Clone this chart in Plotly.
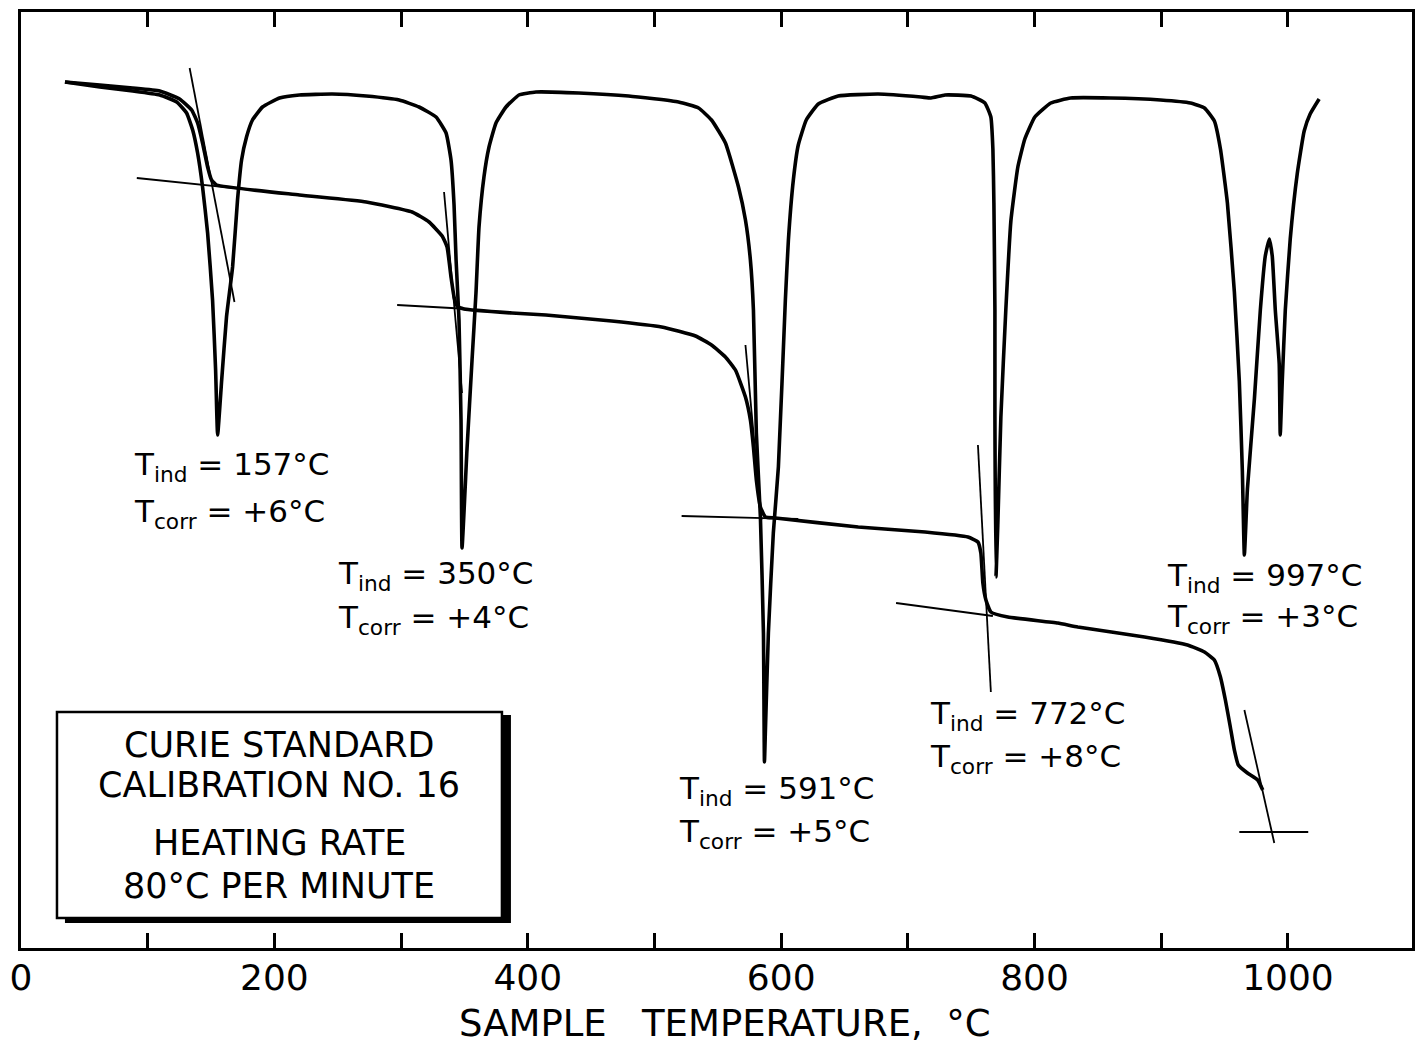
import plotly.graph_objects as go

# ---------------- data (sample temperature in °C, deflection in arbitrary chart units) -------------
dta_temp = [34.7, 62.2, 88.2, 109.5, 122.9, 130.7, 135.5, 139.4, 143.3, 147.3, 151.2, 153.6, 155.2,
            158.4, 162.2, 167.0, 170.9, 174.1, 178.0, 182.7, 190.6, 204.0, 219.7, 245.7, 272.5,
            298.5, 314.2, 327.6, 335.5, 339.4, 341.8, 343.4, 345.7, 347.3, 348.1,
            352.0, 356.0, 359.1, 361.5, 365.4, 369.4, 374.9, 382.8, 393.0, 406.4, 440.3, 479.6,
            519.0, 534.8, 545.0, 556.0, 566.3, 571.8, 575.7, 578.1, 580.4, 583.6, 586.0, 586.8,
            587.5, 589.9, 593.8, 597.8, 603.3, 605.7, 609.6, 613.5, 619.8, 629.3, 645.0, 676.5,
            710.4, 718.3, 729.3, 749.8, 760.8, 765.5, 767.1, 767.9, 768.7, 768.7, 769.5,
            771.0, 773.4, 777.3, 781.3, 786.8, 792.3, 800.2, 812.8, 828.5, 860.0, 899.4, 923.0,
            934.1, 941.9, 946.7, 952.2, 957.7, 961.6, 964.0, 965.6,
            968.0, 973.5, 978.2, 982.1, 985.3, 987.6, 990.0, 993.1, 993.9,
            995.5, 997.9, 1001.8, 1007.3, 1012.8, 1017.5, 1024.6]
dta_signal = [866, 861, 857, 853, 846, 835, 818, 795, 761, 715, 648, 578, 513,
              568, 631, 681, 748, 788, 811, 828, 841, 850, 853, 854, 852,
              848, 841, 831, 815, 788, 743, 688, 628, 528, 400,
              498, 588, 655, 721, 771, 801, 825, 841, 853, 856, 855, 852,
              846, 840, 828, 805, 761, 728, 688, 638, 515, 431, 315, 186,
              215, 315, 415, 481, 648, 708, 768, 803, 828, 844, 852, 854,
              851, 850, 853, 852, 845, 831, 799, 745, 638, 531, 371,
              424, 531, 638, 727, 781, 809, 831, 845, 850, 850, 848, 845,
              840, 827, 799, 745, 656, 567, 477, 393,
              459, 549, 638, 692, 709, 692, 638, 584, 513,
              567, 638, 709, 774, 817, 834, 849]

tga_temp = [34.7, 62.2, 88.2, 109.5, 125.2, 134.7, 139.4, 143.3, 147.3, 150.4, 154.4,
            219.7, 272.5, 308.7, 322.1, 332.4, 336.3, 339.4, 341.8, 344.2, 349.7,
            387.5, 414.3, 466.2, 505.6, 532.4, 545.0, 556.0, 563.9, 571.8, 575.7, 578.1,
            580.4, 583.6, 587.5, 595.4, 660.8, 713.6, 747.4, 755.3, 757.6, 759.2, 761.6,
            765.5, 778.9, 818.3, 834.1, 886.8, 920.7, 934.1, 941.9, 946.7, 950.6, 954.5,
            957.7, 960.8, 968.0, 976.1, 980.1]
tga_signal = [866, 863, 860, 857, 849, 838, 825, 805, 781, 768, 763,
              753, 746, 736, 726, 712, 701, 671, 651, 642, 639,
              635, 633, 627, 621, 612, 603, 591, 578, 551, 528, 501,
              468, 441, 431, 430, 421, 416, 411, 406, 395, 365, 348,
              336, 331, 325, 321, 311, 303, 296, 288, 271, 248, 221,
              198, 183, 175, 168, 158]

# tangent construction lines (start / end points of each thin ruled line)
tangent_temp = [[133.1, 168.5], [91.4, 219.7], [333.9, 348.1], [296.9, 353.6],
                [571.8, 584.4], [521.4, 613.5], [755.3, 765.5], [690.7, 767.1],
                [965.6, 989.2], [961.6, 1016.0]]
tangent_signal = [[880, 646], [770, 753], [756, 555], [643, 639],
                  [603, 428], [432, 429], [503, 256], [345, 332],
                  [238, 105], [116, 116]]

ind_temps = ["157", "350", "591", "772", "997"]
corr_temps = ["+6", "+4", "+5", "+8", "+3"]

tick_vals = [0, 100, 200, 300, 400, 500, 600, 700, 800, 900, 1000]
tick_text = ["0", "", "200", "", "400", "", "600", "", "800", "", "1000"]

box_lines = ["CURIE STANDARD", "CALIBRATION NO. 16", "HEATING RATE", "80°C PER MINUTE"]

# ---------------- layout positions (annotation anchors in data units) ---------------------------
label_x = [87.4, 248.9, 517.4, 715.9, 902.6]
label_y1 = [482, 373, 158, 233, 371]
label_y2 = [435, 329, 115, 190, 330]
box_text_y = [203, 163, 105, 62]

FONT = "DejaVu Sans"
fig = go.Figure()

for tx, ty in zip(tangent_temp, tangent_signal):
    fig.add_trace(go.Scatter(x=tx, y=ty, mode="lines", line=dict(color="black", width=1.8),
                             showlegend=False, hoverinfo="skip"))

fig.add_trace(go.Scatter(x=dta_temp, y=dta_signal, mode="lines",
                         line=dict(color="black", width=3.6, shape="spline", smoothing=0.4),
                         showlegend=False))
fig.add_trace(go.Scatter(x=tga_temp, y=tga_signal, mode="lines",
                         line=dict(color="black", width=3.6, shape="spline", smoothing=0.4),
                         showlegend=False))

ann = []
for i in range(len(ind_temps)):
    ann.append(dict(x=label_x[i], y=label_y1[i], xref="x", yref="y", xanchor="left", yanchor="middle",
                    text=f"T<sub>ind</sub> = {ind_temps[i]}°C", showarrow=False,
                    font=dict(family=FONT, size=31, color="black")))
    ann.append(dict(x=label_x[i], y=label_y2[i], xref="x", yref="y", xanchor="left", yanchor="middle",
                    text=f"T<sub>corr</sub> = {corr_temps[i]}°C", showarrow=False,
                    font=dict(family=FONT, size=31, color="black")))

for t, yy in zip(box_lines, box_text_y):
    ann.append(dict(x=204.0, y=yy, xref="x", yref="y", xanchor="center", yanchor="middle",
                    text=t, showarrow=False, font=dict(family=FONT, size=35, color="black")))

ann.append(dict(x=556, y=-0.081, xref="x", yref="paper", xanchor="center", yanchor="middle",
                text="SAMPLE   TEMPERATURE,  °C", showarrow=False,
                font=dict(family=FONT, size=37, color="black")))

shapes = [
    dict(type="rect", xref="x", yref="y", x0=34.7, x1=386.7, y0=25, y1=233,
         fillcolor="black", line=dict(width=0), layer="above"),
    dict(type="rect", xref="x", yref="y", x0=28.4, x1=379.6, y0=30, y1=236,
         fillcolor="white", line=dict(color="black", width=2.5), layer="above"),
]

fig.update_layout(
    width=1418, height=1053,
    margin=dict(l=21, r=3, t=12, b=105),
    paper_bgcolor="white", plot_bgcolor="white",
    annotations=ann, shapes=shapes,
    xaxis=dict(range=[0, 1097.9], tickvals=tick_vals, ticktext=tick_text,
               ticks="inside", ticklen=15, tickwidth=2.5, tickcolor="black",
               showline=True, linewidth=3, linecolor="black", mirror="allticks",
               showgrid=False, zeroline=False, ticklabelstandoff=-4,
               tickfont=dict(family=FONT, size=36, color="black")),
    yaxis=dict(range=[0, 936], showticklabels=False, ticks="",
               showline=True, linewidth=3, linecolor="black", mirror=True,
               showgrid=False, zeroline=False),
)

fig.write_html("out.html")
